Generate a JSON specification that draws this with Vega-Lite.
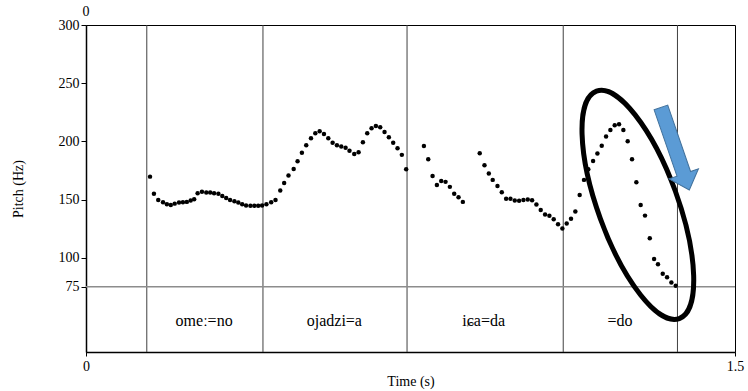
{
  "$schema": "https://vega.github.io/schema/vega-lite/v6.json",
  "width": 649,
  "height": 327,
  "autosize": {"type": "none"},
  "padding": {"left": 86, "top": 25, "right": 13, "bottom": 39},
  "background": "white",
  "config": {
    "view": {"stroke": "black", "strokeWidth": 1},
    "font": "Liberation Serif"
  },
  "datasets": {
    "bounds": [{"t": 0.1405}, {"t": 0.409}, {"t": 0.742}, {"t": 1.103}, {"t": 1.367}],
    "floor": [{"hz": 75}],
    "pitch": [
      {"t": 0.148, "hz": 169.7}, {"t": 0.157, "hz": 154.9}, {"t": 0.167, "hz": 149.7}, {"t": 0.178, "hz": 147.7},
      {"t": 0.187, "hz": 146.0}, {"t": 0.196, "hz": 145.4}, {"t": 0.205, "hz": 146.5}, {"t": 0.215, "hz": 147.4},
      {"t": 0.224, "hz": 147.7}, {"t": 0.233, "hz": 148.0}, {"t": 0.242, "hz": 149.1}, {"t": 0.250, "hz": 150.3},
      {"t": 0.258, "hz": 155.5}, {"t": 0.268, "hz": 156.8}, {"t": 0.278, "hz": 156.0}, {"t": 0.287, "hz": 156.0},
      {"t": 0.296, "hz": 155.5}, {"t": 0.306, "hz": 154.9}, {"t": 0.315, "hz": 153.1}, {"t": 0.324, "hz": 151.4},
      {"t": 0.333, "hz": 149.7}, {"t": 0.343, "hz": 148.6}, {"t": 0.352, "hz": 147.4}, {"t": 0.361, "hz": 146.0},
      {"t": 0.370, "hz": 144.8}, {"t": 0.380, "hz": 144.6}, {"t": 0.389, "hz": 144.6}, {"t": 0.398, "hz": 144.6},
      {"t": 0.407, "hz": 144.8}, {"t": 0.417, "hz": 146.0}, {"t": 0.428, "hz": 147.7}, {"t": 0.438, "hz": 149.7},
      {"t": 0.449, "hz": 157.7}, {"t": 0.458, "hz": 164.3}, {"t": 0.468, "hz": 170.7}, {"t": 0.480, "hz": 176.3},
      {"t": 0.489, "hz": 182.9}, {"t": 0.499, "hz": 190.3}, {"t": 0.509, "hz": 196.7}, {"t": 0.520, "hz": 202.7},
      {"t": 0.530, "hz": 207.0}, {"t": 0.540, "hz": 208.7}, {"t": 0.550, "hz": 206.4}, {"t": 0.560, "hz": 202.7},
      {"t": 0.570, "hz": 198.9}, {"t": 0.580, "hz": 196.7}, {"t": 0.590, "hz": 195.5}, {"t": 0.600, "hz": 194.6},
      {"t": 0.609, "hz": 192.0}, {"t": 0.620, "hz": 189.2}, {"t": 0.630, "hz": 190.7}, {"t": 0.640, "hz": 199.3},
      {"t": 0.650, "hz": 207.0}, {"t": 0.660, "hz": 211.3}, {"t": 0.670, "hz": 213.3}, {"t": 0.680, "hz": 212.1},
      {"t": 0.690, "hz": 208.1}, {"t": 0.700, "hz": 203.6}, {"t": 0.710, "hz": 198.9}, {"t": 0.720, "hz": 194.1},
      {"t": 0.730, "hz": 188.4}, {"t": 0.740, "hz": 176.1},
      {"t": 0.781, "hz": 196.1}, {"t": 0.791, "hz": 184.7}, {"t": 0.801, "hz": 170.3}, {"t": 0.811, "hz": 162.6},
      {"t": 0.821, "hz": 166.0}, {"t": 0.831, "hz": 165.2}, {"t": 0.841, "hz": 160.9}, {"t": 0.851, "hz": 154.9},
      {"t": 0.861, "hz": 152.0}, {"t": 0.871, "hz": 148.0},
      {"t": 0.910, "hz": 189.8}, {"t": 0.921, "hz": 179.5}, {"t": 0.931, "hz": 172.3}, {"t": 0.940, "hz": 166.9},
      {"t": 0.951, "hz": 161.7}, {"t": 0.961, "hz": 156.3}, {"t": 0.971, "hz": 150.6}, {"t": 0.981, "hz": 150.6},
      {"t": 0.991, "hz": 149.1}, {"t": 1.001, "hz": 148.9}, {"t": 1.011, "hz": 149.7}, {"t": 1.021, "hz": 150.0},
      {"t": 1.031, "hz": 149.4}, {"t": 1.041, "hz": 145.7}, {"t": 1.051, "hz": 141.1}, {"t": 1.061, "hz": 137.1},
      {"t": 1.071, "hz": 136.0}, {"t": 1.081, "hz": 133.1}, {"t": 1.091, "hz": 128.8}, {"t": 1.101, "hz": 125.1},
      {"t": 1.111, "hz": 129.4}, {"t": 1.121, "hz": 133.6}, {"t": 1.131, "hz": 139.7}, {"t": 1.141, "hz": 154.0},
      {"t": 1.151, "hz": 166.9}, {"t": 1.161, "hz": 176.1}, {"t": 1.172, "hz": 183.2}, {"t": 1.182, "hz": 189.5},
      {"t": 1.192, "hz": 196.3}, {"t": 1.202, "hz": 204.1}, {"t": 1.212, "hz": 209.8}, {"t": 1.222, "hz": 213.9},
      {"t": 1.232, "hz": 214.7}, {"t": 1.242, "hz": 209.8}, {"t": 1.252, "hz": 200.1}, {"t": 1.262, "hz": 184.7},
      {"t": 1.272, "hz": 164.9}, {"t": 1.282, "hz": 145.4}, {"t": 1.292, "hz": 136.2}, {"t": 1.303, "hz": 116.8},
      {"t": 1.313, "hz": 99.0}, {"t": 1.322, "hz": 94.5}, {"t": 1.333, "hz": 86.2}, {"t": 1.343, "hz": 83.3},
      {"t": 1.353, "hz": 78.7}, {"t": 1.363, "hz": 75.9}
    ],
    "labels": [
      {"t": 0.273, "hz": 45.8, "label": "omeː=no"},
      {"t": 0.574, "hz": 45.8, "label": "ojadzi=a"},
      {"t": 0.919, "hz": 45.8, "label": "iɕa=da"},
      {"t": 1.234, "hz": 45.8, "label": "=do"}
    ],
    "toplabel": [{"t": 0, "hz": 300, "label": "0"}],
    "ellipse": [{"t": 1.2755, "hz": 145.4}],
    "arrow": [{"t": 1.3616, "hz": 193.7}]
  },
  "layer": [
    {
      "data": {"name": "bounds"},
      "mark": {"type": "rule", "color": "#404040", "strokeWidth": 1},
      "encoding": {
        "x": {
          "field": "t", "type": "quantitative",
          "scale": {"domain": [0, 1.5], "nice": false, "zero": false},
          "axis": {
            "values": [0, 1.5], "format": "~g", "grid": false, "domainColor": "black", "domainWidth": 1.5,
            "tickColor": "black", "tickSize": 4, "tickWidth": 1, "labelFont": "Liberation Serif",
            "labelFontSize": 14, "labelColor": "black", "labelPadding": 3, "labelFlush": false,
            "labelOverlap": false, "title": "Time (s)", "titleFont": "Liberation Serif",
            "titleFontSize": 14, "titleFontWeight": "normal", "titleColor": "black", "titlePadding": 1
          }
        }
      }
    },
    {
      "data": {"name": "floor"},
      "mark": {"type": "rule", "color": "#8c8c8c", "strokeWidth": 1.5},
      "encoding": {
        "y": {
          "field": "hz", "type": "quantitative",
          "scale": {"domain": [19, 300], "nice": false, "zero": false},
          "axis": {
            "values": [75, 100, 150, 200, 250, 300], "grid": false, "domainColor": "black", "domainWidth": 1.5,
            "tickColor": "black", "tickSize": 5, "tickWidth": 1, "labelFont": "Liberation Serif",
            "labelFontSize": 14, "labelColor": "black", "labelPadding": 2, "labelOverlap": false,
            "title": "Pitch (Hz)", "titleFont": "Liberation Serif", "titleFontSize": 14,
            "titleFontWeight": "normal", "titleColor": "black", "titlePadding": 33
          }
        }
      }
    },
    {
      "data": {"name": "pitch"},
      "mark": {"type": "circle", "size": 20, "color": "black", "opacity": 1},
      "encoding": {
        "x": {
          "field": "t", "type": "quantitative",
          "scale": {"domain": [0, 1.5], "nice": false, "zero": false},
          "axis": {
            "values": [0, 1.5], "format": "~g", "grid": false, "domainColor": "black", "domainWidth": 1.5,
            "tickColor": "black", "tickSize": 4, "tickWidth": 1, "labelFont": "Liberation Serif",
            "labelFontSize": 14, "labelColor": "black", "labelPadding": 3, "labelFlush": false,
            "labelOverlap": false, "title": "Time (s)", "titleFont": "Liberation Serif",
            "titleFontSize": 14, "titleFontWeight": "normal", "titleColor": "black", "titlePadding": 1
          }
        },
        "y": {
          "field": "hz", "type": "quantitative",
          "scale": {"domain": [19, 300], "nice": false, "zero": false},
          "axis": {
            "values": [75, 100, 150, 200, 250, 300], "grid": false, "domainColor": "black", "domainWidth": 1.5,
            "tickColor": "black", "tickSize": 5, "tickWidth": 1, "labelFont": "Liberation Serif",
            "labelFontSize": 14, "labelColor": "black", "labelPadding": 2, "labelOverlap": false,
            "title": "Pitch (Hz)", "titleFont": "Liberation Serif", "titleFontSize": 14,
            "titleFontWeight": "normal", "titleColor": "black", "titlePadding": 33
          }
        }
      }
    },
    {
      "data": {"name": "labels"},
      "mark": {"type": "text", "font": "Liberation Serif", "fontSize": 16, "color": "black", "align": "center", "baseline": "middle"},
      "encoding": {
        "x": {"field": "t", "type": "quantitative"},
        "y": {"field": "hz", "type": "quantitative"},
        "text": {"field": "label"}
      }
    },
    {
      "data": {"name": "toplabel"},
      "mark": {"type": "text", "font": "Liberation Serif", "fontSize": 14, "color": "black", "align": "center", "baseline": "middle", "dy": -13},
      "encoding": {
        "x": {"field": "t", "type": "quantitative"},
        "y": {"field": "hz", "type": "quantitative"},
        "text": {"field": "label"}
      }
    },
    {
      "data": {"name": "ellipse"},
      "mark": {
        "type": "point",
        "shape": "M 0 -1 C 0.1823 -1 0.33 -0.5523 0.33 0 C 0.33 0.5523 0.1823 1 0 1 C -0.1823 1 -0.33 0.5523 -0.33 0 C -0.33 -0.5523 -0.1823 -1 0 -1 Z",
        "size": 58564, "angle": 340, "filled": false, "stroke": "black", "strokeWidth": 5, "opacity": 1
      },
      "encoding": {
        "x": {"field": "t", "type": "quantitative"},
        "y": {"field": "hz", "type": "quantitative"}
      }
    },
    {
      "data": {"name": "arrow"},
      "mark": {
        "type": "point",
        "shape": "M -0.165 -1 L 0.165 -1 L 0.165 0.61 L 0.356 0.61 L 0 1 L -0.356 0.61 L -0.165 0.61 Z",
        "size": 7604, "angle": 341, "filled": true, "fill": "#5B9BD5", "stroke": "#41719C", "strokeWidth": 1, "opacity": 1
      },
      "encoding": {
        "x": {"field": "t", "type": "quantitative"},
        "y": {"field": "hz", "type": "quantitative"}
      }
    }
  ]
}
